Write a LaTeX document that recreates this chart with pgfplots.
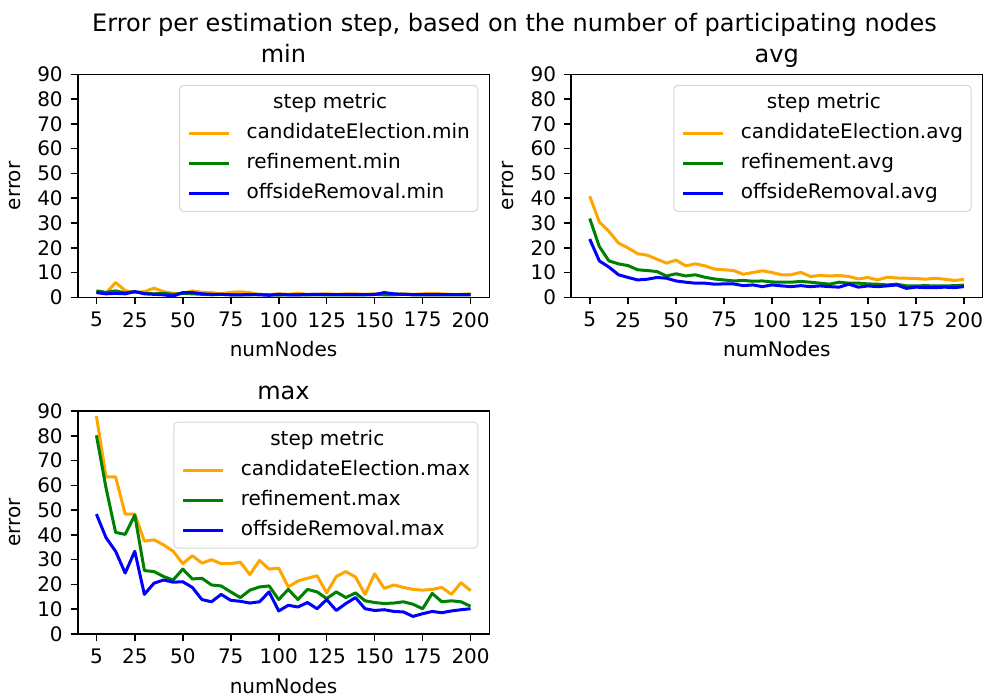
\documentclass[border=0pt]{standalone}
\usepackage{fontspec}
\setmainfont{DejaVu Sans}
\usepackage{pgfplots}
\pgfplotsset{compat=1.18}
\usepackage{pgfplotstable}

\definecolor{mplorange}{RGB}{255,165,0}
\definecolor{mplgreen}{RGB}{0,128,0}
\definecolor{mplblue}{RGB}{0,0,255}

% n = numNodes; ce = candidateElection, ref = refinement, off = offsideRemoval
\pgfplotstableread{
n   ce   ref  off
5   2.3  2.6  1.9
10  1.6  2.0  1.4
15  6.0  2.6  1.6
20  2.7  1.8  1.4
25  1.9  2.3  2.3
30  2.3  1.6  1.4
35  3.7  1.4  1.2
40  2.3  1.6  1.0
45  1.6  1.2  0.5
50  1.6  1.6  1.9
55  2.6  1.4  1.9
60  2.0  1.2  1.4
65  1.9  1.0  1.2
70  1.4  1.2  1.2
75  2.0  1.0  1.0
80  2.2  1.0  1.0
85  1.9  1.0  1.1
90  1.1  1.2  1.0
95  1.1  1.0  0.8
100 1.4  0.9  1.2
105 1.2  1.0  1.0
110 1.6  1.0  1.0
115 1.2  1.0  1.1
120 1.2  1.0  1.2
125 1.4  1.0  1.1
130 1.2  1.0  1.1
135 1.4  1.0  1.1
140 1.4  1.0  1.1
145 1.2  1.0  1.1
150 1.4  1.2  1.1
155 1.4  1.0  1.9
160 1.2  1.0  1.4
165 1.4  1.2  1.2
170 1.2  1.0  1.1
175 1.4  1.0  1.1
180 1.6  1.0  1.1
185 1.4  1.0  1.1
190 1.2  1.0  1.1
195 1.2  1.0  1.1
200 1.4  1.0  1.1
}\minT

\pgfplotstableread{
n   ce   ref  off
5   40.8 31.8 23.5
10  30.4 20.5 14.7
15  26.6 14.7 12.2
20  21.9 13.5 9.1
25  19.9 12.8 8.0
30  17.6 11.1 7.0
35  17.0 10.8 7.3
40  15.4 10.4 8.0
45  13.8 8.6  7.7
50  15.0 9.5  6.6
55  12.7 8.6  6.1
60  13.5 9.1  5.7
65  12.7 8.1  5.7
70  11.4 7.4  5.3
75  11.1 7.0  5.4
80  10.8 6.6  5.4
85  9.3  6.8  4.7
90  10.0 6.5  5.0
95  10.7 6.6  4.3
100 10.0 6.2  5.0
105 9.1  6.1  4.6
110 9.1  6.1  4.3
115 10.1 6.4  4.7
120 8.4  6.1  4.3
125 8.8  5.7  4.6
130 8.6  5.3  4.3
135 8.8  6.1  4.1
140 8.4  5.7  5.3
145 7.4  5.7  4.1
150 8.0  5.4  4.6
155 7.0  5.3  4.3
160 8.1  5.0  4.6
165 7.8  5.3  5.0
170 7.7  4.6  3.6
175 7.6  4.6  4.1
180 7.3  4.7  3.9
185 7.7  4.6  3.9
190 7.3  4.6  4.1
195 6.8  4.7  3.9
200 7.2  4.9  4.3
}\avgT

\pgfplotstableread{
n   ce   ref  off
5   88.0 80.2 48.4
10  63.4 59.0 38.9
15  63.4 41.0 33.4
20  48.4 40.2 24.6
25  48.4 48.0 33.4
30  37.5 25.6 16.0
35  38.0 25.2 20.5
40  36.0 23.2 21.8
45  33.4 21.8 20.9
50  28.4 26.2 21.1
55  31.6 22.2 18.8
60  28.6 22.5 13.9
65  30.0 19.8 13.0
70  28.4 19.4 16.0
75  28.4 17.0 13.6
80  29.0 14.7 13.2
85  24.0 17.7 12.5
90  29.7 19.0 13.0
95  26.2 19.4 17.0
100 26.6 13.9 9.3
105 19.0 18.0 11.6
110 21.4 13.9 10.9
115 22.5 18.0 12.7
120 23.5 17.0 10.2
125 16.6 14.3 13.9
130 23.2 17.0 9.5
135 25.2 14.7 12.3
140 23.0 16.6 14.7
145 16.0 13.4 10.2
150 24.3 12.7 9.5
155 18.4 12.3 9.8
160 19.8 12.5 9.1
165 18.8 13.0 8.9
170 18.0 12.0 7.1
175 17.7 10.2 8.2
180 18.0 16.4 9.1
185 18.8 13.0 8.6
190 16.0 13.4 9.3
195 20.7 13.0 9.8
200 17.5 11.2 10.2
}\maxT

\pgfplotsset{
  panel/.style={
    scale only axis, width=205.8pt, height=111.5pt,
    xmin=-4.75, xmax=209.75, ymin=0, ymax=90,
    xtick={5,25,50,75,100,125,150,175,200},
    ytick={0,10,...,90},
    minor tick num=0,
    tick align=outside, tick pos=left,
    major tick length=3.5pt,
    every tick/.style={black, line width=0.8pt},
    axis line style={line width=0.8pt},
    axis on top,
    /pgf/number format/assume math mode=true,
    ticklabel style={font=\fontsize{10}{12}\selectfont},
    xticklabel style={inner sep=0pt, anchor=north, yshift=-3.8pt},
    yticklabel style={inner sep=0pt, anchor=east, xshift=-3.8pt},
    xlabel=numNodes, ylabel=error,
    label style={font=\fontsize{10}{12}\selectfont, inner sep=0pt},
    xlabel style={at={(axis description cs:0.5,-0.2673)}, anchor=base},
    ylabel style={at={(axis description cs:-0.1378,0.5)}, anchor=south},
    title style={font=\fontsize{12}{14}\selectfont, inner sep=0pt,
      at={(axis description cs:0.5,1)}, anchor=base, yshift=0pt},
    legend cell align=left,
    legend image code/.code={\draw[##1, line width=1.5pt] (0pt,0pt) -- (20pt,0pt);},
    legend style={
      at={(axis description cs:1,1)}, anchor=north east,
      xshift=-5.5pt, yshift=-5.3pt,
      draw=black!16, line width=0.5pt, rounded corners=2pt,
      fill=white, fill opacity=0.8, text opacity=1,
      inner xsep=4pt, inner ysep=4pt,
      font=\fontsize{10}{12}\selectfont,
      row sep=5pt, column sep=8pt,
      nodes={inner sep=0pt, text height=7.6pt, text depth=2.4pt},
    },
  },
  ser/.style={line width=1.5pt, line join=round, mark=none},
}

% legend title row, shifted so that it sits centred in the frame
\newcommand{\legtitle}[1]{%
  \addlegendimage{empty legend}%
  \addlegendentry{\hspace*{#1}step metric}}

\begin{document}
\begin{tikzpicture}
\useasboundingbox (0,0) rectangle (492pt,348.5pt);

\node[anchor=base, inner sep=0pt, font=\fontsize{12}{14}\selectfont]
  at (257.25pt,332.5pt) {Error per estimation step, based on the number of participating nodes};

\begin{axis}[panel, at={(38.85pt,199.85pt)}, anchor=south west, title=min]
  \legtitle{13.3pt}
  \addplot[ser, mplorange] table[x=n, y=ce] {\minT};
  \addlegendentry{candidateElection.min}
  \addplot[ser, mplgreen] table[x=n, y=ref] {\minT};
  \addlegendentry{refinement.min}
  \addplot[ser, mplblue] table[x=n, y=off] {\minT};
  \addlegendentry{offsideRemoval.min}
\end{axis}

\begin{axis}[panel, at={(285.5pt,199.85pt)}, anchor=south west, title=avg]
  \legtitle{13.05pt}
  \addplot[ser, mplorange] table[x=n, y=ce] {\avgT};
  \addlegendentry{candidateElection.avg}
  \addplot[ser, mplgreen] table[x=n, y=ref] {\avgT};
  \addlegendentry{refinement.avg}
  \addplot[ser, mplblue] table[x=n, y=off] {\avgT};
  \addlegendentry{offsideRemoval.avg}
\end{axis}

\begin{axis}[panel, at={(38.85pt,31.5pt)}, anchor=south west, title=max]
  \legtitle{14.76pt}
  \addplot[ser, mplorange] table[x=n, y=ce] {\maxT};
  \addlegendentry{candidateElection.max}
  \addplot[ser, mplgreen] table[x=n, y=ref] {\maxT};
  \addlegendentry{refinement.max}
  \addplot[ser, mplblue] table[x=n, y=off] {\maxT};
  \addlegendentry{offsideRemoval.max}
\end{axis}
\end{tikzpicture}
\end{document}
